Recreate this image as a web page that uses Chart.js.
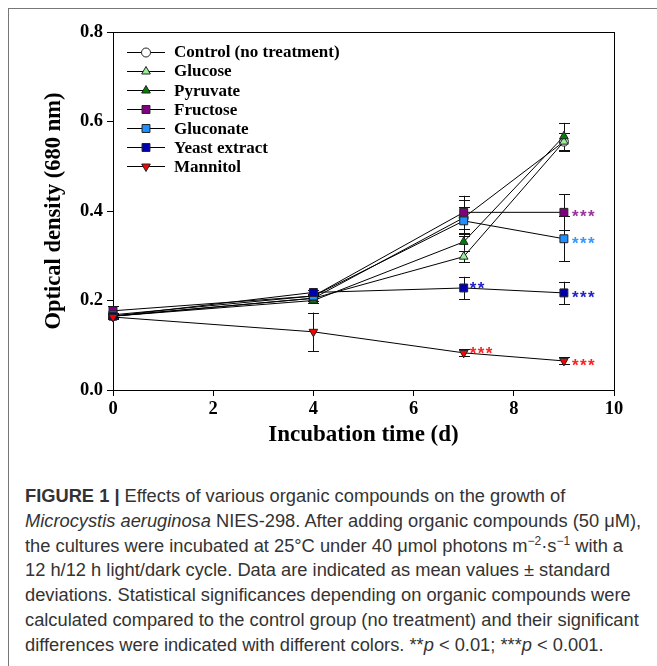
<!DOCTYPE html>
<html><head><meta charset="utf-8">
<script src="https://cdn.jsdelivr.net/npm/chart.js@4/dist/chart.umd.min.js"></script>
<style>
html,body{margin:0;padding:0;background:#fff;width:657px;height:666px;overflow:hidden;}
#frame{position:absolute;left:8px;top:8px;width:720px;height:720px;border-left:1.5px solid #777;border-top:1.5px solid #777;}
#wrap{position:absolute;left:0;top:0;width:657px;height:460px;}
#cap{position:absolute;left:25px;top:484px;font-family:"Liberation Sans",Arial,sans-serif;font-size:18.3px;line-height:24.8px;color:#333;white-space:nowrap;}
#cap sup{font-size:12px;line-height:0;vertical-align:7px;}
</style></head><body>
<div id="frame"></div>
<div id="wrap"><canvas id="c" width="657" height="460"></canvas></div>
<div id="cap"><b>FIGURE 1 |</b> Effects of various organic compounds on the growth of<br><i>Microcystis aeruginosa</i> NIES-298. After adding organic compounds (50 μM),<br>the cultures were incubated at 25°C under 40 μmol photons m<sup>−2</sup>·s<sup>−1</sup> with a<br>12 h/12 h light/dark cycle. Data are indicated as mean values ± standard<br>deviations. Statistical significances depending on organic compounds were<br>calculated compared to the control group (no treatment) and their significant<br>differences were indicated with different colors. **<i>p</i> &lt; 0.01; ***<i>p</i> &lt; 0.001.</div>
<script>
const days = [0, 4, 7, 9];
const seriesNames = ['Control (no treatment)', 'Glucose', 'Pyruvate', 'Fructose', 'Gluconate', 'Yeast extract', 'Mannitol'];
const control    = [0.165, 0.205, 0.385, 0.555];
const controlErr = [0.005, 0.005, 0.040, 0.020];
const glucose    = [0.165, 0.205, 0.298, 0.555];
const glucoseErr = [0.005, 0.005, 0.012, 0.020];
const pyruvate   = [0.165, 0.200, 0.331, 0.567];
const pyruvateErr= [0.005, 0.005, 0.020, 0.030];
const fructose   = [0.177, 0.210, 0.397, 0.397];
const fructoseErr= [0.010, 0.005, 0.037, 0.040];
const gluconate  = [0.168, 0.210, 0.378, 0.338];
const gluconateErr=[0.005, 0.005, 0.030, 0.050];
const yeast      = [0.165, 0.218, 0.228, 0.217];
const yeastErr   = [0.005, 0.005, 0.025, 0.025];
const mannitol   = [0.163, 0.130, 0.083, 0.065];
const mannitolErr= [0.005, 0.043, 0.008, 0.008];
const yTicks = [0.0, 0.2, 0.4, 0.6, 0.8];
const xTicks = [0, 2, 4, 6, 8, 10];
// significance marks: [series index, day index, text]
const sigMarks = [
  [3, 3, '***'], [4, 3, '***'], [5, 2, '**'], [5, 3, '***'], [6, 2, '***'], [6, 3, '***']
];

const values = [control, glucose, pyruvate, fructose, gluconate, yeast, mannitol];
const errors = [controlErr, glucoseErr, pyruvateErr, fructoseErr, gluconateErr, yeastErr, mannitolErr];
const fills = ['#ffffff', '#99ee99', '#008000', '#800080', '#1e90ff', '#0000b0', '#ff0000'];
const sigColors = ['#000', '#000', '#000', '#993399', '#3399ff', '#2222cc', '#ff2020'];
const styles = ['circle', 'triangle', 'triangle', 'rect', 'rect', 'rect', 'triangle'];
const rotations = [0, 0, 0, 0, 0, 0, 180];
const radii = [4.5, 5, 5, 5.6, 5.6, 5.6, 5];

const datasets = seriesNames.map((name, i) => ({
  label: name,
  data: days.map((d, j) => ({x: d, y: values[i][j]})),
  showLine: true,
  borderColor: '#000',
  borderWidth: 1,
  pointStyle: styles[i],
  pointRotation: rotations[i],
  pointRadius: radii[i],
  pointHoverRadius: radii[i],
  pointBackgroundColor: fills[i],
  pointBorderColor: '#222',
  pointBorderWidth: 1,
  clip: false,
  order: seriesNames.length - i
}));

const serif = '"Liberation Serif","Times New Roman",serif';

const boxPlugin = {
  id: 'box',
  beforeDatasetsDraw(chart) {
    const {ctx, chartArea: a, scales: {x, y}} = chart;
    ctx.save();
    ctx.strokeStyle = '#000';
    ctx.lineWidth = 1;
    ctx.strokeRect(Math.round(a.left) + 0.5, Math.round(a.top) + 0.5, Math.round(a.right - a.left), Math.round(a.bottom - a.top));
    // error bars
    ctx.strokeStyle = '#111';
    values.forEach((vals, i) => {
      vals.forEach((v, j) => {
        const e = errors[i][j];
        const px = Math.round(x.getPixelForValue(days[j])) + 0.5;
        const yt = y.getPixelForValue(v + e), yb = y.getPixelForValue(v - e);
        ctx.beginPath();
        ctx.moveTo(px, yt); ctx.lineTo(px, yb);
        ctx.moveTo(px - 5.5, Math.round(yt) + 0.5); ctx.lineTo(px + 5.5, Math.round(yt) + 0.5);
        ctx.moveTo(px - 5.5, Math.round(yb) + 0.5); ctx.lineTo(px + 5.5, Math.round(yb) + 0.5);
        ctx.stroke();
      });
    });
    ctx.restore();
  },
  afterDatasetsDraw(chart) {
    const {ctx, chartArea: a, scales: {x, y}} = chart;
    ctx.save();
    // significance asterisks
    ctx.font = 'bold 17px "Liberation Sans", Arial, sans-serif';
    ctx.textAlign = 'left';
    ctx.textBaseline = 'alphabetic';
    sigMarks.forEach(([si, dj, txt]) => {
      const px = x.getPixelForValue(days[dj]);
      const py = y.getPixelForValue(values[si][dj]);
      ctx.fillStyle = sigColors[si];
      const dx = dj === 3 ? 8 : 6;
      const dy = dj === 3 ? 10 : 6;
      ctx.fillText(txt.split('').join(String.fromCharCode(8202)), px + dx, py + dy);
    });
    // legend
    const lx = a.left + 14, mx = a.left + 33, rx = a.left + 52, tx = a.left + 61;
    seriesNames.forEach((name, i) => {
      const ly = a.top + 20 + i * 19.07;
      ctx.strokeStyle = '#000';
      ctx.lineWidth = 1;
      ctx.beginPath();
      ctx.moveTo(lx, Math.round(ly) + 0.5); ctx.lineTo(rx, Math.round(ly) + 0.5);
      ctx.stroke();
      ctx.fillStyle = fills[i];
      ctx.strokeStyle = '#222';
      Chart.helpers.drawPoint(ctx, {pointStyle: styles[i], rotation: rotations[i], radius: radii[i], borderWidth: 1}, mx, Math.round(ly) + 0.5);
      ctx.fillStyle = '#000';
      ctx.font = 'bold 17px ' + serif;
      ctx.textBaseline = 'middle';
      ctx.fillText(name, tx, ly + 1);
    });
    ctx.restore();
  }
};

new Chart(document.getElementById('c'), {
  type: 'scatter',
  data: {datasets},
  plugins: [boxPlugin],
  options: {
    responsive: false,
    animation: false,
    events: [],
    layout: {padding: {left: 0, right: 43, top: 32, bottom: 0}, autoPadding: false},
    plugins: {legend: {display: false}, tooltip: {enabled: false}},
    scales: {
      x: {
        type: 'linear', min: 0, max: 10,
        afterBuildTicks(s) { s.ticks = xTicks.map(v => ({value: v})); },
        afterFit(s) { s.height = 70; },
        border: {display: true, color: '#000', width: 1},
        grid: {drawOnChartArea: false, drawTicks: true, tickLength: 6, color: '#000'},
        ticks: {color: '#000', font: {family: serif, size: 18.5, weight: 'bold'}, padding: 2, maxRotation: 0},
        title: {display: true, text: 'Incubation time (d)', color: '#000', font: {family: serif, size: 23, weight: 'bold'}, padding: {bottom: 11, top: 0}}
      },
      y: {
        type: 'linear', min: 0, max: 0.8,
        afterBuildTicks(s) { s.ticks = yTicks.map(v => ({value: v})); },
        afterFit(s) { s.width = 113; },
        border: {display: true, color: '#000', width: 1},
        grid: {drawOnChartArea: false, drawTicks: true, tickLength: 6, color: '#000'},
        ticks: {color: '#000', font: {family: serif, size: 18.5, weight: 'bold'}, padding: 4, callback: v => v.toFixed(1)},
        title: {display: true, text: 'Optical density (680 nm)', color: '#000', font: {family: serif, size: 22.5, weight: 'bold'}, padding: {top: 41, bottom: 0}}
      }
    }
  }
});
</script>
</body></html>
